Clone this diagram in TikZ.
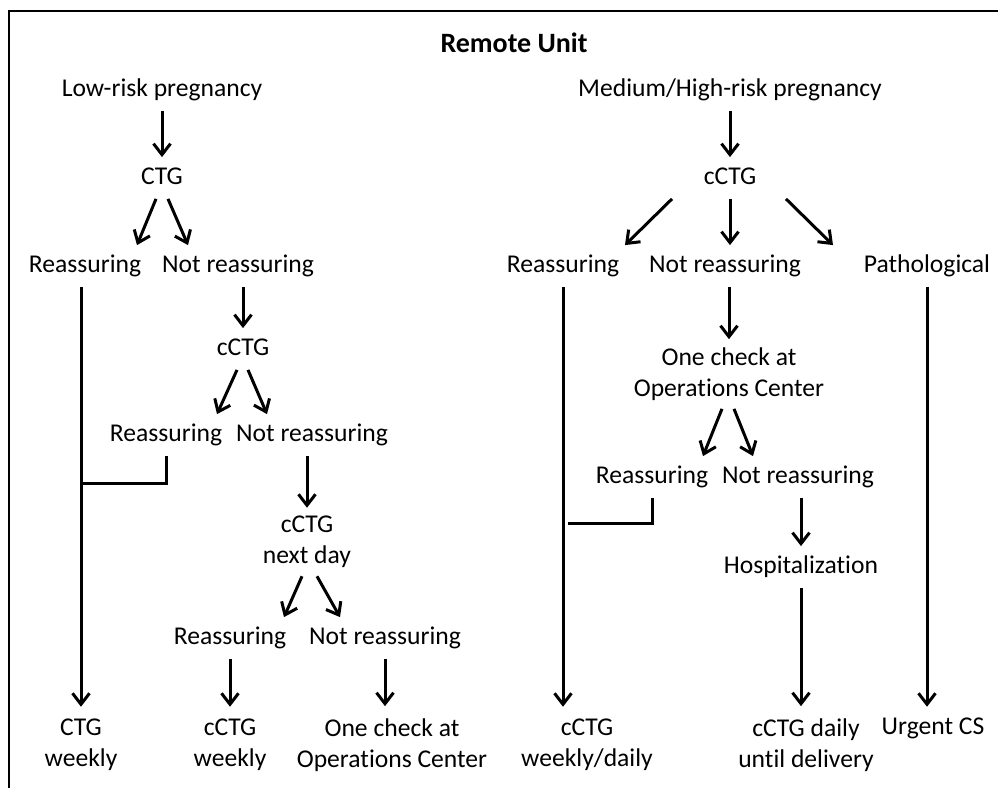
\documentclass[tikz,border=0pt]{standalone}
\usepackage{fontspec}
\setmainfont{Carlito}[Ligatures=NoCommon]
\usetikzlibrary{arrows.meta,positioning,calc}

\begin{document}
\begin{tikzpicture}[
  x=0.5pt, y=-0.5pt,
  lbl/.style={inner xsep=0pt, inner ysep=4pt, text height=9.5pt,
              text depth=3pt, font=\fontsize{12.8}{15.5}\selectfont},
  lbl2/.style={inner xsep=0pt, inner ysep=4pt, align=center,
               font=\fontsize{12.8}{15.5}\selectfont},
  ar/.style={-{Straight Barb[length=5.5pt,width=8.5pt]}, line width=1.5pt},
  ln/.style={line width=1.5pt}
]
  \useasboundingbox (0,0) rectangle (998,788);
  \draw[line width=1.1pt] (9,788) -- (9,11) -- (998,11);

  \node[font=\fontsize{14}{16}\selectfont\bfseries] (title) at (514,43) {Remote Unit};

  % low-risk branch
  \node[lbl] (low) at (162,90) {Low-risk pregnancy};
  \node[lbl] (ctg) at (162,178) {CTG};
  \node[lbl] (reasA) at (85,266) {Reassuring};
  \node[lbl] (notA) at (238,266) {Not reassuring};
  \node[lbl] (cctgA) at (243,349) {cCTG};
  \node[lbl] (reasB) at (166,435) {Reassuring};
  \node[lbl] (notB) at (312,435) {Not reassuring};
  \node[lbl2] (nextday) at (307,542) {cCTG\\next day};
  \node[lbl] (reasC) at (230,638) {Reassuring};
  \node[lbl] (notC) at (385,638) {Not reassuring};
  \node[lbl2] (wkA) at (81,745) {CTG\\weekly};
  \node[lbl2] (wkB) at (230,745) {cCTG\\weekly};
  \node[lbl2] (ocA) at (392,745) {One check at\\Operations Center};
  \coordinate (teeA) at (81,483);

  % medium/high-risk branch
  \node[lbl] (high) at (730,90) {Medium/High-risk pregnancy};
  \node[lbl] (cctgR) at (730,178) {cCTG};
  \node[lbl] (reasR) at (563,266) {Reassuring};
  \node[lbl] (notR) at (725,266) {Not reassuring};
  \node[lbl] (path) at (927,266) {Pathological};
  \node[lbl2] (ocR) at (729,374) {One check at\\Operations Center};
  \node[lbl] (reasS) at (652,477) {Reassuring};
  \node[lbl] (notS) at (798,477) {Not reassuring};
  \node[lbl] (hosp) at (801,567) {Hospitalization};
  \node[lbl2] (wkR) at (587,745) {cCTG\\weekly/daily};
  \node[lbl2] (daily) at (806,745) {cCTG daily\\until delivery};
  \node[lbl] (urgent) at (933,728) {Urgent CS};
  \coordinate (teeR) at (568,523);

  \draw[ar] (low) -- (ctg);
  \draw[ar] ([xshift=-3pt]ctg.south) -- ([xshift=26pt]reasA.north);
  \draw[ar] ([xshift=3pt]ctg.south) -- ([xshift=-25pt]notA.north);
  \draw[ar] (notA.south -| cctgA) -- (cctgA);
  \draw[ar] (reasA.south -| wkA) -- ([yshift=2pt]wkA.north);
  \draw[ar] ([xshift=-3pt]cctgA.south) -- ([xshift=25.5pt]reasB.north);
  \draw[ar] ([xshift=2.5pt]cctgA.south) -- ([xshift=-22.5pt]notB.north);
  \draw[ln] (reasB.south) |- (teeA);
  \draw[ar] (notB.south -| nextday) -- (nextday);
  \draw[ar] ([xshift=-2.5pt]nextday.south) -- ([xshift=27pt]reasC.north);
  \draw[ar] ([xshift=5pt]nextday.south) -- ([xshift=-22.5pt]notC.north);
  \draw[ar] (reasC.south) -- ([yshift=2pt]wkB.north);
  \draw[ar] (notC.south) -- ([yshift=2pt]notC.south |- ocA.north);

  \draw[ar] (high) -- (cctgR);
  \draw[ar] ([xshift=-29pt]cctgR.south) -- ([xshift=31pt]reasR.north);
  \draw[ar] (cctgR.south) -- (cctgR.south |- notR.north);
  \draw[ar] ([xshift=28pt]cctgR.south) -- ([xshift=-47pt]path.north);
  \draw[ar] (reasR.south) -- ([yshift=2pt]reasR.south |- wkR.north);
  \draw[ar] (notR.south -| ocR) -- (ocR);
  \draw[ar] (path.south) -- ([yshift=2pt]path.south |- wkR.north);
  \draw[ar] ([xshift=-3.5pt]ocR.south) -- ([xshift=25.5pt]reasS.north);
  \draw[ar] ([xshift=2.5pt]ocR.south) -- ([xshift=-22.5pt]notS.north);
  \draw[ln] (reasS.south) |- (teeR);
  \draw[ar] (notS.south -| hosp) -- (hosp);
  \draw[ar] (hosp.south) -- ([yshift=2pt]hosp.south |- daily.north);
\end{tikzpicture}
\end{document}
